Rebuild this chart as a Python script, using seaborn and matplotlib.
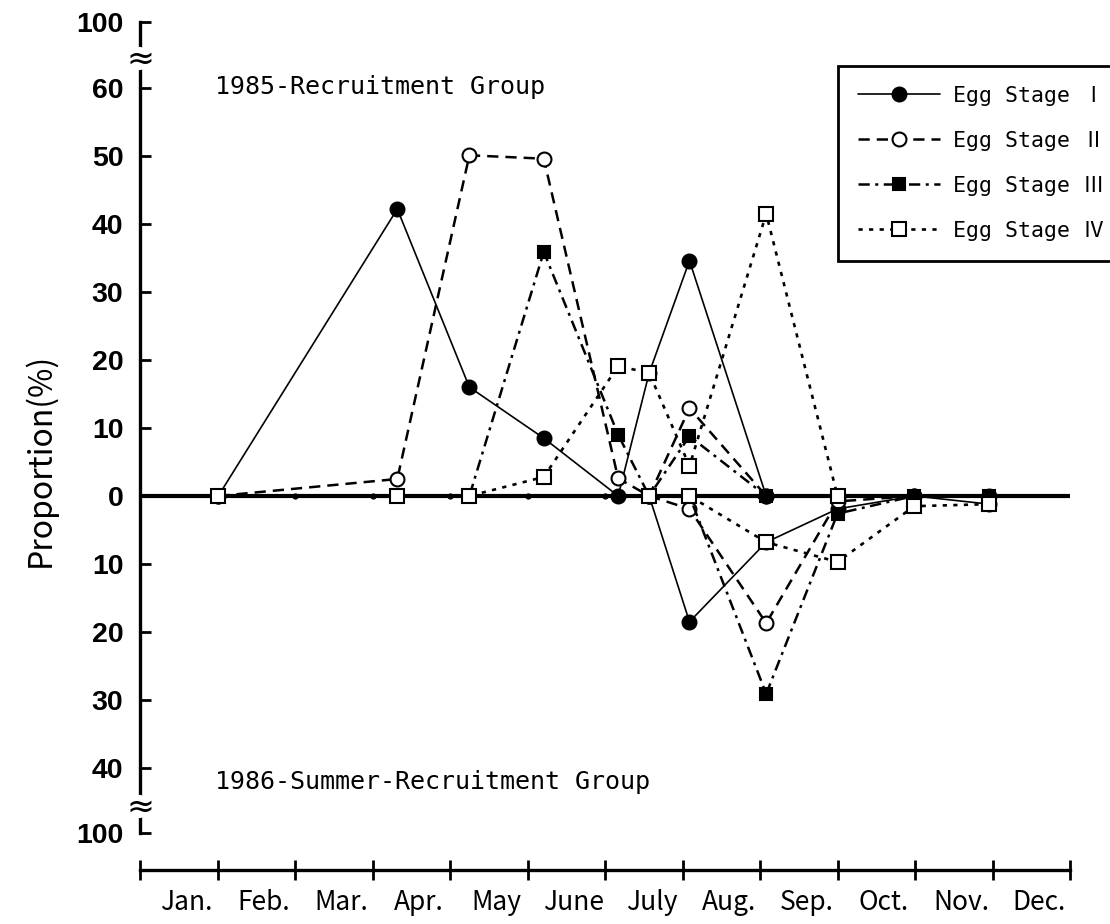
import numpy as np
import matplotlib
matplotlib.use('Agg')
import matplotlib.pyplot as plt
import seaborn as sns

# sampling dates in month units (0 = start of Jan.)
x_1985 = [1.01, 3.32, 4.25, 5.21, 6.17, 6.57, 7.09, 8.08, 9.0]
x_1986 = [6.57, 7.09, 8.08, 9.0, 9.99, 10.96]

# proportion (%) of each egg stage, 1985-Recruitment Group (upper half)
egg1_1985 = [0, 42.2, 16.0, 8.5, 0, 18.1, 34.6, 0, 0]
egg2_1985 = [0, 2.5, 50.1, 49.6, 2.6, 0, 12.9, 0, 0]
egg3_1985 = [0, 0, 0, 35.9, 9.0, 0, 8.8, 0, 0]
egg4_1985 = [0, 0, 0, 2.8, 19.1, 18.1, 4.4, 41.5, 0]

# 1986-Summer-Recruitment Group (drawn downward)
egg1_1986 = [0, 18.5, 6.8, 1.9, 0, 1.2]
egg2_1986 = [0, 1.9, 18.7, 0.8, 0, 0]
egg3_1986 = [0, 0, 29.1, 2.6, 0, 0]
egg4_1986 = [0, 0, 6.8, 9.7, 1.5, 1.2]

stages = ['Egg Stage Ⅰ', 'Egg Stage Ⅱ', 'Egg Stage Ⅲ', 'Egg Stage Ⅳ']
months = ['Jan.', 'Feb.', 'Mar.', 'Apr.', 'May', 'June', 'July', 'Aug.',
          'Sep.', 'Oct.', 'Nov.', 'Dec.']

# y axis is broken: top and bottom ticks stand for 100 %
y_ticks = [69.7, 60, 50, 40, 30, 20, 10, 0, -10, -20, -30, -40, -49.5]
y_labels = ['100', '60', '50', '40', '30', '20', '10', '0', '10', '20',
            '30', '40', '100']

sns.set_style('white')
plt.rcParams.update({'axes.edgecolor': 'black', 'text.color': 'black',
                     'xtick.color': 'black', 'ytick.color': 'black',
                     'axes.labelcolor': 'black'})
mono = ['DejaVu Sans Mono', 'Noto Sans CJK JP']

fig = plt.figure(figsize=(11.1, 9.24), dpi=100)
ax = fig.add_axes([140 / 1110, 1 - 870 / 924, 930 / 1110, 848 / 924])

styles = [
    dict(linestyle='-', lw=1.2, marker='o', ms=10, mfc='black'),
    dict(linestyle=(0, (4.5, 2.8)), lw=1.8, marker='o', ms=10, mfc='white'),
    dict(linestyle=(0, (4.5, 2.2, 1.2, 2.2)), lw=1.8, marker='s', ms=9, mfc='black'),
    dict(linestyle=(0, (1.6, 2.4)), lw=1.9, marker='s', ms=9.5, mfc='white'),
]
series_1985 = [egg1_1985, egg2_1985, egg3_1985, egg4_1985]
series_1986 = [egg1_1986, egg2_1986, egg3_1986, egg4_1986]

ax.axhline(0, color='black', lw=3, zorder=2)
ax.plot(range(1, 12), np.zeros(11), 'o', ms=3.5, color='black', zorder=2)

handles = []
for i, st in enumerate(styles):
    sns.lineplot(x=x_1985, y=series_1985[i], ax=ax, color='black',
                 estimator=None, sort=False, mec='black', mew=1.5,
                 zorder=3 + i, **st)
    handles.append(ax.lines[-1])
    sns.lineplot(x=x_1986, y=-np.array(series_1986[i]), ax=ax, color='black',
                 estimator=None, sort=False, mec='black', mew=1.5,
                 zorder=3 + i, **st)

ax.set_xlim(0, 12)
ax.set_ylim(-55, 69.7)

for s in ['top', 'right']:
    ax.spines[s].set_visible(False)
ax.spines['left'].set_bounds(-49.5, 69.7)
ax.spines['left'].set_linewidth(2.4)
ax.spines['bottom'].set_linewidth(2.4)
ax.spines['bottom'].set_bounds(0, 12)

ax.set_yticks(y_ticks)
ax.set_yticklabels(y_labels, fontsize=20.5, family='Liberation Sans', fontweight='bold')
ax.tick_params(axis='y', left=True, direction='in', length=8, width=2, pad=12)

ax.set_xticks(range(13))
ax.set_xticklabels([''] * 13)
ax.tick_params(axis='x', which='major', bottom=True, direction='inout',
               length=14, width=2)
ax.set_xticks([k + 0.6 for k in range(12)], months, minor=True,
              fontsize=19, family='Noto Sans CJK JP')
ax.tick_params(axis='x', which='minor', bottom=True, length=0, pad=14)

# axis break marks
for yb in (64.3, -45.7):
    ax.plot([0, 0], [yb - 1.1, yb + 1.1], color='white', lw=6,
            clip_on=False, zorder=5)
    ax.text(0, yb, '≈', ha='center', va='center', fontsize=24,
            family='DejaVu Sans', clip_on=False, zorder=6)

ax.text(0.97, 60.1, '1985-Recruitment Group', ha='left', va='center',
        fontsize=18, family=mono)
ax.text(0.97, -42.1, '1986-Summer-Recruitment Group', ha='left', va='center',
        fontsize=18, family=mono)

fig.text(40 / 1110, 1 - 460 / 924, 'Proportion(%)', rotation=90,
         ha='center', va='center', fontsize=23, family='Noto Sans CJK JP')

leg = ax.legend(handles, stages, loc='upper left',
                bbox_to_anchor=(838 / 1110, 1 - 66 / 924),
                bbox_transform=fig.transFigure, frameon=True, fancybox=False,
                framealpha=1, edgecolor='black', handlelength=3.8,
                handletextpad=0.6, labelspacing=1.16, borderpad=0.92,
                borderaxespad=0, prop={'family': mono, 'size': 15.5})
leg.get_frame().set_linewidth(2)

fig.savefig('out.png', dpi=100)
